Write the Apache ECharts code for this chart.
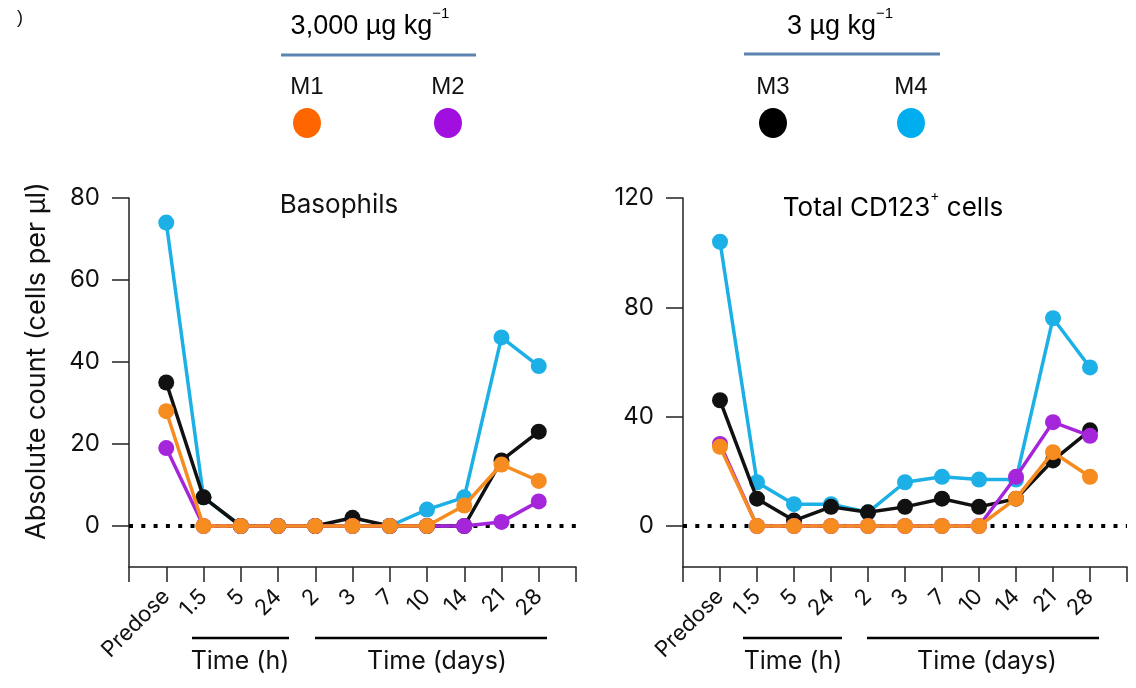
<!DOCTYPE html>
<html>
<head>
<meta charset="utf-8">
<script src="https://cdn.jsdelivr.net/npm/echarts@6/dist/echarts.min.js"></script>
<style>
    html, body { margin: 0; padding: 0; background: #fff; }
    #chartArea { width: 1136px; height: 688px; }
</style>
</head>
<body>
<div id="chartArea"></div>
<script>
// time points, padded with a blank slot at each end of the axis
var categories = ['', 'Predose', '1.5', '5', '24', '2', '3', '7', '10', '14', '21', '28', ''];

// Basophils (cells per ul)
var basoM1 = [28, 0, 0, 0, 0, 0, 0, 0, 5, 15, 11];
var basoM2 = [19, 0, 0, 0, 0, 0, 0, 0, 0, 1, 6];
var basoM3 = [35, 7, 0, 0, 0, 2, 0, 0, 0, 16, 23];
var basoM4 = [74, 7, 0, 0, 0, 0, 0, 4, 7, 46, 39];

// Total CD123+ cells (cells per ul)
var cdM1 = [29, 0, 0, 0, 0, 0, 0, 0, 10, 27, 18];
var cdM2 = [30, 0, 0, 0, 0, 0, 0, 0, 18, 38, 33];
var cdM3 = [46, 10, 2, 7, 5, 7, 10, 7, 10, 24, 35];
var cdM4 = [104, 16, 8, 8, 5, 16, 18, 17, 17, 76, 58];

var basoTicks = [0, 20, 40, 60, 80];
var cdTicks = [0, 40, 80, 120];

var animals = ['M1', 'M2', 'M3', 'M4'];
var lineColors = ['#F68B1F', '#A526DA', '#111111', '#1CB0E6'];
var dotColors = ['#FF6600', '#A10FE0', '#000000', '#00AEEF'];
var zOrder = [6, 5, 4, 3];

var font = 'Inter';
var ink = '#111';

function pad(arr) {
    return [null].concat(arr, [null]);
}

function makeSeries(idx, name, values, i) {
    var s = {
        name: name,
        type: 'line',
        xAxisIndex: idx,
        yAxisIndex: idx,
        data: pad(values),
        symbol: 'circle',
        symbolSize: 16,
        z: zOrder[i],
        lineStyle: {color: lineColors[i], width: 3.5},
        itemStyle: {color: lineColors[i]},
        emphasis: {disabled: true}
    };
    if (i == 3) {
        // dotted zero line, kept under the data lines
        s.markLine = {
            silent: true,
            z: 1,
            symbol: ['none', 'none'],
            label: {show: false},
            lineStyle: {color: '#000', width: 4, type: [4, 8.3], cap: 'butt'},
            data: [{yAxis: 0}]
        };
    }
    return s;
}

function xAxisOf(idx) {
    return {
        gridIndex: idx,
        type: 'category',
        data: categories,
        boundaryGap: false,
        axisLine: {onZero: false, lineStyle: {color: '#222', width: 1.5}},
        axisTick: {show: true, interval: 0, length: 15, lineStyle: {color: '#222', width: 1.5}},
        axisLabel: {interval: 0, rotate: 45, margin: 26, fontSize: 22, color: ink, fontFamily: font, hideOverlap: false},
        splitLine: {show: false}
    };
}

function yAxisOf(idx, min, max, ticks) {
    return {
        gridIndex: idx,
        type: 'value',
        min: min,
        max: max,
        axisLine: {show: true, onZero: false, lineStyle: {color: '#222', width: 1.5}},
        axisTick: {show: true, length: 17, customValues: ticks, lineStyle: {color: '#222', width: 1.5}},
        axisLabel: {customValues: ticks, margin: 29, fontSize: 24, color: ink, fontFamily: font},
        splitLine: {show: false}
    };
}

var series = [];
[basoM1, basoM2, basoM3, basoM4].forEach(function (v, i) {
    series.push(makeSeries(0, animals[i], v, i));
});
[cdM1, cdM2, cdM3, cdM4].forEach(function (v, i) {
    series.push(makeSeries(1, animals[i], v, i));
});

var legendFont = '"Liberation Sans", Arial, sans-serif';
var supRich = {
    n: {fontSize: 27, fontFamily: legendFont, color: '#000', lineHeight: 34, verticalAlign: 'bottom'},
    s: {fontSize: 15, fontFamily: legendFont, color: '#000', lineHeight: 34, verticalAlign: 'top'}
};
var titleRich = {
    n: {fontSize: 26, fontFamily: font, color: ink, lineHeight: 32, verticalAlign: 'bottom'},
    s: {fontSize: 14, fontFamily: font, color: ink, lineHeight: 32, verticalAlign: 'top'}
};

function txt(x, y, text, size, fam, extra) {
    var el = {
        type: 'text', x: x, y: y, silent: true,
        style: {text: text, fontSize: size, fontFamily: fam, fill: ink, align: 'center', verticalAlign: 'middle'}
    };
    if (extra) for (var k in extra) el[k] = extra[k];
    return el;
}

function hline(x1, x2, y, color, w) {
    return {type: 'line', silent: true, shape: {x1: x1, y1: y, x2: x2, y2: y}, style: {stroke: color, lineWidth: w}};
}

var legendX = [307, 448, 773, 911];
var graphics = [
    txt(20, 18, ')', 18, legendFont),
    {type: 'text', x: 370, y: 23, silent: true,
        style: {text: '{n|3,000 µg kg}{s|−1}', rich: supRich, align: 'center', verticalAlign: 'middle'}},
    {type: 'text', x: 840, y: 23, silent: true,
        style: {text: '{n|3 µg kg}{s|−1}', rich: supRich, align: 'center', verticalAlign: 'middle'}},
    hline(281, 476, 55, '#5B84B1', 3),
    hline(744, 940, 54, '#5B84B1', 3),
    {type: 'text', x: 339, y: 205, silent: true,
        style: {text: 'Basophils', fontSize: 26, fontFamily: font, fill: ink, align: 'center', verticalAlign: 'middle'}},
    {type: 'text', x: 893, y: 205, silent: true,
        style: {text: '{n|Total CD123}{s|+}{n| cells}', rich: titleRich, align: 'center', verticalAlign: 'middle'}},
    txt(37, 361, 'Absolute count (cells per μl)', 27, font, {rotation: Math.PI / 2}),
    hline(192, 289, 638, '#000', 2.5),
    hline(315, 547, 638, '#000', 2.5),
    hline(743, 842, 638, '#000', 2.5),
    hline(867, 1099, 638, '#000', 2.5),
    txt(240, 661, 'Time (h)', 25, font),
    txt(437, 661, 'Time (days)', 25, font),
    txt(793, 661, 'Time (h)', 25, font),
    txt(987, 661, 'Time (days)', 25, font)
];
animals.forEach(function (a, i) {
    graphics.push(txt(legendX[i], 87, a, 24, legendFont));
    graphics.push({
        type: 'ellipse', silent: true,
        shape: {cx: legendX[i], cy: 123, rx: 14, ry: 15},
        style: {fill: dotColors[i]}
    });
});

var option = {
    animation: false,
    backgroundColor: '#fff',
    grid: [
        {left: 129, top: 198, width: 447, height: 369, outerBoundsMode: 'none'},
        {left: 683, top: 198, width: 444, height: 369, outerBoundsMode: 'none'}
    ],
    xAxis: [xAxisOf(0), xAxisOf(1)],
    yAxis: [yAxisOf(0, -10, 80, basoTicks), yAxisOf(1, -15, 120, cdTicks)],
    series: series,
    graphic: graphics
};

var myChart = echarts.init(document.getElementById('chartArea'));
myChart.setOption(option);
</script>
</body>
</html>
